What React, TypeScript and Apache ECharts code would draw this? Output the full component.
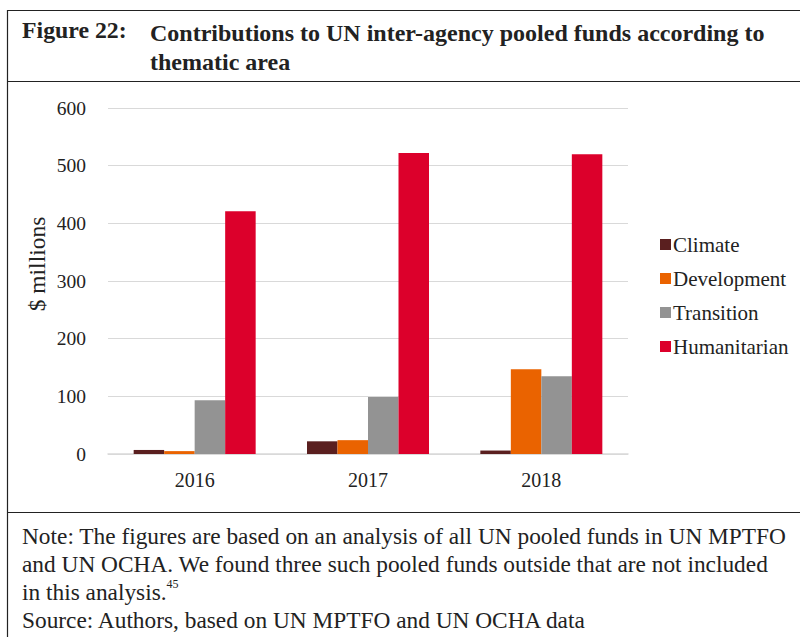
import React, { useEffect, useRef } from "react";
import * as echarts from "echarts";

const years = ["2016", "2017", "2018"];
const climate = [7, 22, 6];
const development = [5, 24, 147];
const transition = [93, 99, 135];
const humanitarian = [421, 522, 520];
const yTicks = { min: 0, max: 600, interval: 100 };

const SERIF = "'Liberation Serif', 'Times New Roman', serif";

export default function App() {
  const ref = useRef<HTMLDivElement>(null);
  useEffect(() => {
    document.body.style.margin = "0";
    const chart = echarts.init(ref.current!, null, { renderer: "svg" });
    const mk = (name: string, data: number[], color: string) => ({
      name,
      type: "bar",
      data,
      barWidth: 30.5,
      barGap: "0%",
      itemStyle: { color },
    });
    chart.setOption({
      animation: false,
      backgroundColor: "#fff",
      grid: { left: 108, right: 172, top: 108, bottom: 183 },
      xAxis: {
        type: "category",
        data: years,
        axisTick: { show: false },
        axisLine: { lineStyle: { color: "#d9d9d9", width: 1.5 } },
        axisLabel: { color: "#222", fontFamily: SERIF, fontSize: 20, margin: 16 },
      },
      yAxis: {
        type: "value",
        ...yTicks,
        axisLine: { show: false },
        axisTick: { show: false },
        splitLine: { lineStyle: { color: "#d9d9d9", width: 1 } },
        axisLabel: { color: "#222", fontFamily: SERIF, fontSize: 19.5, margin: 22 },
      },
      legend: {
        orient: "vertical",
        left: 655,
        top: 229,
        itemWidth: 11,
        itemHeight: 11,
        itemGap: 13,
        icon: "rect",
        textStyle: { color: "#222", fontFamily: SERIF, fontSize: 21, padding: [0, 0, 0, -3] },
        data: ["Climate", "Development", "Transition", "Humanitarian"],
      },
      series: [
        mk("Climate", climate, "#5A1F1F"),
        mk("Development", development, "#EA6300"),
        mk("Transition", transition, "#939393"),
        mk("Humanitarian", humanitarian, "#DC002B"),
      ],
      graphic: [
        { type: "line", shape: { x1: 7, y1: 10.5, x2: 800, y2: 10.5 }, style: { stroke: "#222", lineWidth: 1.2 } },
        { type: "line", shape: { x1: 7.5, y1: 10, x2: 7.5, y2: 637 }, style: { stroke: "#222", lineWidth: 1.2 } },
        { type: "line", shape: { x1: 7, y1: 81.5, x2: 800, y2: 81.5 }, style: { stroke: "#222", lineWidth: 1.2 } },
        { type: "line", shape: { x1: 7, y1: 512.5, x2: 800, y2: 512.5 }, style: { stroke: "#222", lineWidth: 1.2 } },
        {
          type: "text",
          x: 37,
          y: 264,
          rotation: Math.PI / 2,
          style: {
            text: "$ millions",
            font: `23.5px ${SERIF}`,
            fill: "#222",
            align: "center",
            verticalAlign: "middle",
          },
        },
        {
          type: "text",
          left: 22,
          top: 18,
          style: { text: "Figure 22:", font: `bold 23.8px ${SERIF}`, fill: "#222" },
        },
        {
          type: "text",
          left: 150,
          top: 18,
          style: {
            text: "Contributions to UN inter-agency pooled funds according to\nthematic area",
            font: `bold 24px ${SERIF}`,
            lineHeight: 29,
            fill: "#222",
          },
        },
        {
          type: "text",
          left: 22,
          top: 522,
          style: {
            text:
              "Note: The figures are based on an analysis of all UN pooled funds in UN MPTFO\nand UN OCHA. We found three such pooled funds outside that are not included\n{a|in this analysis.}{s|45}\nSource: Authors, based on UN MPTFO and UN OCHA data",
            font: `23.35px ${SERIF}`,
            lineHeight: 28,
            fill: "#222",
            rich: {
              a: { font: `23.35px ${SERIF}`, fill: "#222", lineHeight: 28 },
              s: { font: `12px ${SERIF}`, fill: "#222", verticalAlign: "top", lineHeight: 28, padding: [0, 0, 10, 0] },
            },
          },
        },
      ],
    });
    return () => chart.dispose();
  }, []);
  return <div ref={ref} style={{ width: 800, height: 637 }} />;
}
